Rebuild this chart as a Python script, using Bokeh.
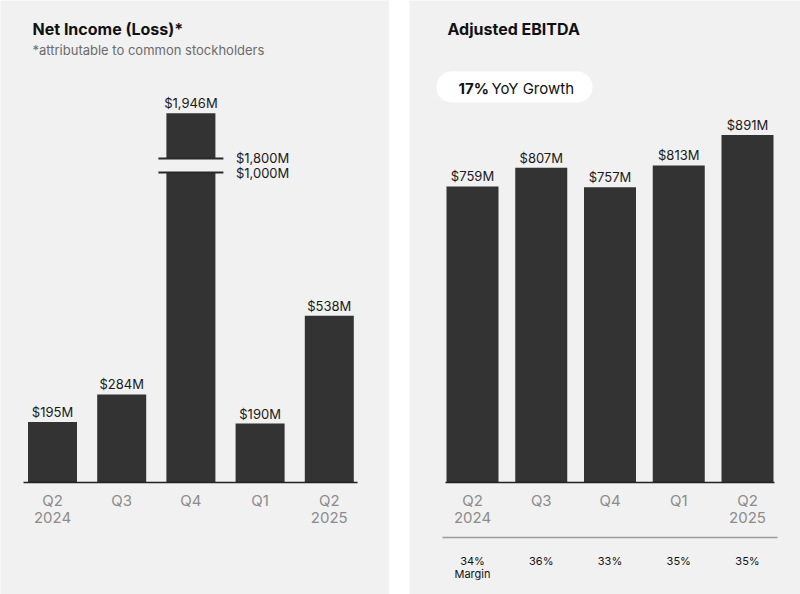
import numpy as np
from bokeh.plotting import figure
from bokeh.layouts import row
from bokeh.models import Label, BoxAnnotation, Range1d
from bokeh.core.properties import value
from bokeh.embed import file_html
from bokeh.resources import INLINE

# ---------------- data ----------------
quarters = ["Q2\n2024", "Q3", "Q4", "Q1", "Q2\n2025"]
net_income = [195, 284, 1946, 190, 538]          # $M
ebitda = [759, 807, 757, 813, 891]               # $M
margins = [34, 36, 33, 35, 35]                   # %
axis_break = [1000, 1800]                         # $M, broken axis span
yoy_growth = 17                                   # %

# ---------------- style ----------------
FONT = "Inter"
BG = "#f1f1f1"
BAR = "#333333"
TXT = "#1a1a1a"
TICK = "#8c8c8c"
H = 594
PAGE_OFF = 0
LBL_SHIFT = 5   # label baseline correction, px

def make_fig(w, x0_px, px_unit, base_px, scale):
    xs = -x0_px / px_unit
    p = figure(width=w, height=H, x_axis_type=None, y_axis_type=None,
               toolbar_location=None, output_backend="svg",
               x_range=Range1d(xs, xs + w / px_unit),
               y_range=Range1d(-base_px / scale, (H - base_px) / scale),
               min_border=0)
    p.background_fill_color = BG
    p.border_fill_color = BG
    p.outline_line_color = None
    p.grid.visible = False
    return p, xs

# ================= LEFT PANEL =================
WL = 389
L_UNIT = 69.2
L_X0 = 52
L_SCALE = 0.31
BASE_RY = 482
L_BASE = H + PAGE_OFF - BASE_RY
pl, xsl = make_fig(WL, L_X0, L_UNIT, L_BASE, L_SCALE)

def XL(rx):
    return xsl + (rx - PAGE_OFF) / L_UNIT

def YL(ry):
    return (BASE_RY - ry) / L_SCALE

lo, hi = axis_break
gap = 14 / L_SCALE
idx = np.arange(len(quarters))
disp = [v if v <= lo else lo + gap + (v - hi) for v in net_income]
lower_top = [min(v, lo) for v in net_income]
bw_l = 49 / L_UNIT

pl.vbar(x=idx, top=lower_top, bottom=0, width=bw_l, fill_color=BAR, line_color=None)
brk = [i for i, v in enumerate(net_income) if v > lo]
pl.vbar(x=[idx[i] for i in brk], bottom=[lo + gap] * len(brk),
        top=[disp[i] for i in brk], width=bw_l, fill_color=BAR, line_color=None)
half = 32.5 / L_UNIT
for i in brk:
    pl.segment(x0=[idx[i] - half] * 2, x1=[idx[i] + half] * 2,
               y0=[lo, lo + gap], y1=[lo, lo + gap], line_color="#2a2a2a", line_width=2)
    pl.text(x=[idx[i]] * 2, y=[lo + gap, lo], text=[f"${hi:,}M", f"${lo:,}M"],
            x_offset=45, y_offset=[-1, 0], text_align="left", text_baseline="middle",
            text_font=value(FONT), text_font_size="13px", text_color=TXT)

pl.text(x=idx, y=disp, text=[f"${v:,}M" for v in net_income], y_offset=-2,
        text_align="center", text_baseline="bottom", text_font=value(FONT),
        text_font_size="13px", text_color=TXT)

pl.segment(x0=[XL(23)], x1=[XL(357)], y0=[0], y1=[0], line_color="#222222", line_width=1.5)
pl.text(x=idx, y=0, text=quarters, y_offset=8, text_align="center", text_baseline="top",
        text_font=value(FONT), text_font_size="15px", text_color=TICK, text_line_height=0.93)

pl.add_layout(Label(x=XL(32), y=YL(33 - LBL_SHIFT), text="Net Income (Loss)*", text_font=FONT,
                    text_font_size="16px", text_font_style="bold", text_color="#111111",
                    text_baseline="alphabetic"))
pl.add_layout(Label(x=XL(32), y=YL(54 - LBL_SHIFT), text="*attributable to common stockholders",
                    text_font=FONT, text_font_size="13px", text_color="#6b6b6b",
                    text_baseline="alphabetic"))

# ================= RIGHT PANEL =================
WR = 391
R_OFF = 409
R_UNIT = 68.75
R_X0 = 63
R_SCALE = 0.39
pr, xsr = make_fig(WR, R_X0, R_UNIT, L_BASE, R_SCALE)

def XR(rx):
    return xsr + (rx - R_OFF) / R_UNIT

def YR(ry):
    return (BASE_RY - ry) / R_SCALE

pr.vbar(x=idx, top=ebitda, bottom=0, width=52 / R_UNIT, fill_color=BAR, line_color=None)
pr.text(x=idx, y=ebitda, text=[f"${v:,}M" for v in ebitda], y_offset=-2,
        text_align="center", text_baseline="bottom", text_font=value(FONT),
        text_font_size="13px", text_color=TXT)
pr.segment(x0=[XR(445)], x1=[XR(774)], y0=[0], y1=[0], line_color="#222222", line_width=1.5)
pr.text(x=idx, y=0, text=quarters, y_offset=8, text_align="center", text_baseline="top",
        text_font=value(FONT), text_font_size="15px", text_color=TICK, text_line_height=0.93)

pr.segment(x0=[XR(442)], x1=[XR(777)], y0=[YR(537)], y1=[YR(537)],
           line_color="#9a9a9a", line_width=1.5)
margin_txt = [f"{m}%" for m in margins]
margin_txt[0] = margin_txt[0] + "\nMargin"
pr.text(x=idx, y=0, text=margin_txt, y_offset=71, text_align="center", text_baseline="top",
        text_font=value(FONT), text_font_size="11px", text_color="#111111",
        text_line_height=0.98)

pr.add_layout(Label(x=XR(447), y=YR(33 - LBL_SHIFT), text="Adjusted EBITDA", text_font=FONT,
                    text_font_size="16px", text_font_style="bold", text_color="#111111",
                    text_baseline="alphabetic"))
pr.add_layout(BoxAnnotation(left=XR(436), right=XR(592), top=YR(71), bottom=YR(102),
                            fill_color="white", fill_alpha=1.0, line_color=None,
                            border_radius=15))
pr.add_layout(Label(x=XR(458), y=YR(93 - LBL_SHIFT), text=f"{yoy_growth}%", text_font=FONT,
                    text_font_size="15px", text_font_style="bold", text_color="#111111",
                    text_baseline="alphabetic"))
pr.add_layout(Label(x=XR(491), y=YR(93 - LBL_SHIFT), text="YoY Growth", text_font=FONT,
                    text_font_size="15px", text_color="#111111",
                    text_baseline="alphabetic"))

layout = row(pl, pr, spacing=20)
open("out.html", "w").write(file_html(layout, INLINE))
